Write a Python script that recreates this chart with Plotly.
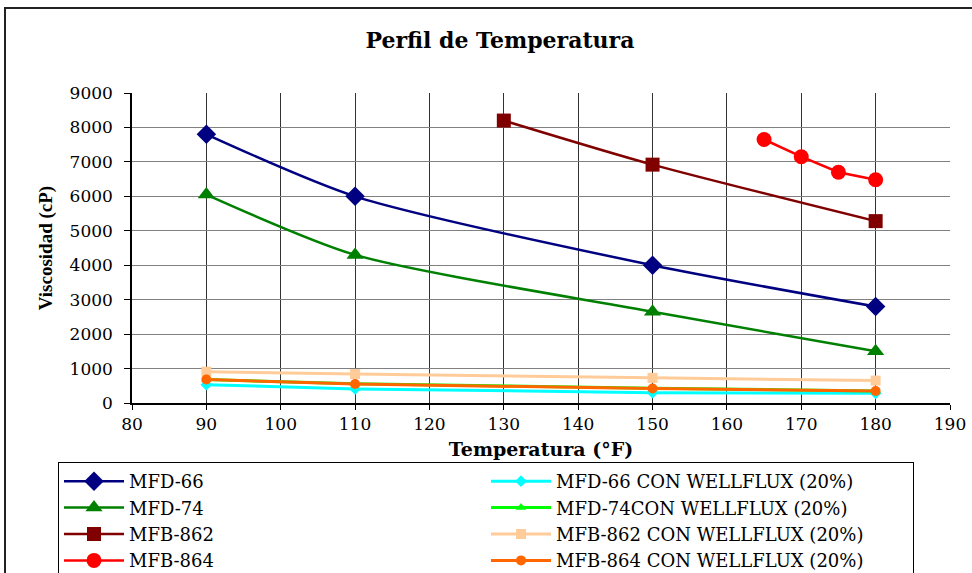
import plotly.graph_objects as go

# Temperatures (°F) and viscosities (cP) for each fluid
temp_main = [90, 110, 150, 180]
mfd66 = [7800, 6000, 4000, 2800]
mfd74 = [6050, 4300, 2650, 1500]
temp_862 = [130, 150, 180]
mfb862 = [8200, 6920, 5280]
temp_864 = [165, 170, 175, 180]
mfb864 = [7650, 7150, 6700, 6480]

mfd66_wf = [530, 410, 300, 280]
mfd74_wf = [680, 560, 430, 350]
mfb862_wf = [910, 840, 730, 650]
mfb864_wf = [680, 550, 420, 350]

x_ticks = list(range(80, 191, 10))
y_ticks = list(range(0, 9001, 1000))

SERIF = "DejaVu Serif"
TIMES = "Liberation Serif"

fig = go.Figure()

def add(name, x, y, color, symbol, msize, width, shape="linear"):
    fig.add_trace(go.Scatter(
        x=x, y=y, name=name, mode="lines+markers",
        line=dict(color=color, width=width, shape=shape, smoothing=0.7),
        marker=dict(symbol=symbol, size=msize, color=color),
    ))

# Interleaved order so the horizontal legend forms two columns
add("MFD-66", temp_main, mfd66, "#000080", "diamond", 15, 2.5, "spline")
add("MFD-66 CON WELLFLUX (20%)", temp_main, mfd66_wf, "#00FFFF", "diamond", 9, 3)
add("MFD-74", temp_main, mfd74, "#008000", "triangle-up", 15, 2.5, "spline")
add("MFD-74CON WELLFLUX (20%)", temp_main, mfd74_wf, "#00FF00", "triangle-up", 9, 3)
add("MFB-862", temp_862, mfb862, "#800000", "square", 14, 2.5, "spline")
add("MFB-862 CON WELLFLUX (20%)", temp_main, mfb862_wf, "#FFCC99", "square", 10, 3)
add("MFB-864", temp_864, mfb864, "#FF0000", "circle", 15, 2.5)
add("MFB-864 CON WELLFLUX (20%)", temp_main, mfb864_wf, "#FF6600", "circle", 10, 3)

L, R, T, B = 132, 22, 93, 170
W, H = 972, 573
pw, ph = W - L - R, H - T - B

def px(xp):
    return (xp - L) / pw

def py(yp):
    return (H - B - yp) / ph

fig.update_layout(
    width=W, height=H,
    margin=dict(l=L, r=R, t=T, b=B, autoexpand=False),
    paper_bgcolor="white", plot_bgcolor="white",
    font=dict(family=SERIF, color="black", size=17),
    title=dict(text="<b>Perfil de Temperatura</b>", x=500 / W, xanchor="center",
               y=1 - 40 / H, yanchor="middle",
               font=dict(family=SERIF, size=22, color="black")),
    xaxis=dict(
        range=[80, 190], tickvals=x_ticks, ticktext=[str(v) for v in x_ticks],
        showgrid=True, gridcolor="#333333", gridwidth=1,
        showline=True, linecolor="black", linewidth=1.5,
        ticks="outside", ticklen=5, tickcolor="black",
        tickfont=dict(family=SERIF, size=17),
        zeroline=False,
        title=dict(text="<b>Temperatura (°F)</b>", standoff=10,
                   font=dict(family=SERIF, size=19)),
    ),
    yaxis=dict(
        range=[0, 9000], tickvals=y_ticks, ticktext=[str(v) for v in y_ticks],
        showgrid=True, gridcolor="#808080", gridwidth=1,
        showline=True, linecolor="black", linewidth=1.5,
        ticks="outside", ticklen=6, tickcolor="black",
        tickfont=dict(family=SERIF, size=17),
        ticklabelstandoff=8,
        zeroline=False,
        title=dict(text="<b>Viscosidad (cP)</b>", standoff=12,
                   font=dict(family=TIMES, size=19)),
    ),
    legend=dict(
        orientation="h",
        x=px(58), xanchor="left", y=py(462), yanchor="top",
        bordercolor="black", borderwidth=1, bgcolor="white",
        font=dict(family=SERIF, size=18, color="black"),
        entrywidth=352, entrywidthmode="pixels",
        itemwidth=60,
    ),
    showlegend=True,
)

# Outer chart frame
fig.add_shape(type="rect", xref="paper", yref="paper",
              x0=px(5), x1=px(990), y0=py(600), y1=py(8),
              line=dict(color="#222222", width=2), fillcolor="rgba(0,0,0,0)",
              layer="below")

fig.write_html("out.html")
